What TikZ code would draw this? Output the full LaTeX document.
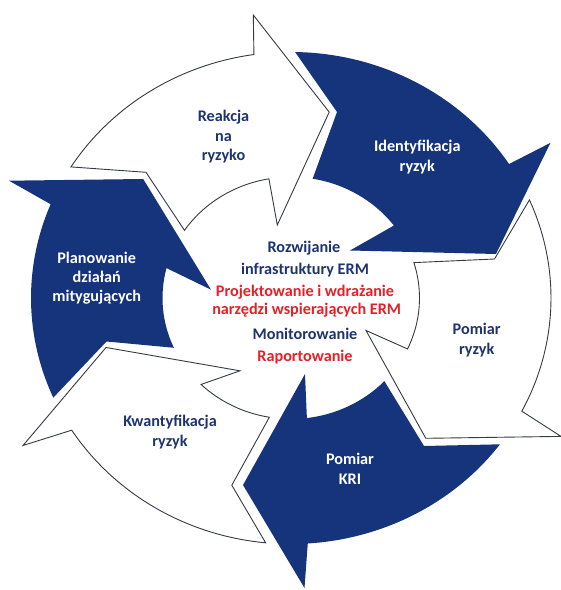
\documentclass[tikz,border=0pt]{standalone}
\usepackage{fontspec}
\setmainfont{Carlito}
\definecolor{navy}{RGB}{22,52,124}
\definecolor{navytext}{RGB}{30,52,112}
\definecolor{ermred}{RGB}{228,32,40}
\definecolor{outlinecol}{RGB}{55,58,68}
\tikzset{
  darkarrow/.style={fill=navy, draw=none},
  lightarrow/.style={fill=white, draw=outlinecol, line width=0.9pt, line join=miter},
  lbl/.style={anchor=base, font=\bfseries\fontsize{16.2}{18}\selectfont, inner sep=0pt},
  darklbl/.style={lbl, text=white},
  navylbl/.style={lbl, text=navytext},
  redlbl/.style={lbl, text=ermred},
}
\begin{document}
\begin{tikzpicture}[x=1pt,y=1pt]
\useasboundingbox (0,0) rectangle (561,590);
\fill[white] (0,0) rectangle (561,590);
\begin{scope}[shift={(291,292)}]
% Reakcja na ryzyko (white)
\path[lightarrow] (147.8:260 and 246) arc[start angle=147.8, end angle=98.2, x radius=260, y radius=246]
  -- (-37.7,283) -- (38.2,185.9) -- (-13.7,73) -- (99.9:128.5 and 121)
  arc[start angle=99.9, end angle=146, x radius=128.5, y radius=121] -- (-145,125.7) -- cycle;
% Identyfikacja ryzyk (dark)
\path[darkarrow] (89.1:260 and 246) arc[start angle=89.1, end angle=33.0, x radius=260, y radius=246]
  -- (259.5,155.2) -- (205,44) -- (59,47.5) -- (36.8:128.5 and 121)
  arc[start angle=36.8, end angle=80.3, x radius=128.5, y radius=121] -- (46,186) -- cycle;
% Pomiar ryzyk (white)
\path[lightarrow] (23.5:260 and 246) arc[start angle=23.5, end angle=-27.4, x radius=260, y radius=246]
  -- (270,-138.4) -- (134.8,-140.3) -- (75,-32.5) -- (-24.9:128.5 and 121)
  arc[start angle=-24.9, end angle=17.0, x radius=128.5, y radius=121] -- (203.5,39) -- cycle;
% Pomiar KRI (dark)
\path[darkarrow] (-36.5:260 and 246) arc[start angle=-36.5, end angle=-86.3, x radius=260, y radius=246]
  -- (13.5,-290) -- (-48,-187) -- (14,-76) -- (-82.9:128.5 and 121)
  arc[start angle=-82.9, end angle=-43.4, x radius=128.5, y radius=121] -- (133,-148) -- cycle;
% Kwantyfikacja ryzyk (white)
\path[lightarrow] (-95.6:260 and 246) arc[start angle=-95.6, end angle=-147.5, x radius=260, y radius=246]
  -- (-268,-147.5) -- (-185,-49.5) -- (-51,-72.8) -- (-134.4:128.5 and 121)
  arc[start angle=-134.4, end angle=-99.7, x radius=128.5, y radius=121] -- (-59.2,-187.2) -- cycle;
% Planowanie dzialan mitygujacych (dark)
\path[darkarrow] (203.9:260 and 246) arc[start angle=203.9, end angle=157.6, x radius=260, y radius=246]
  -- (-282,117.3) -- (-147.8,119) -- (-80,8.3) -- (165.7:128.5 and 121)
  arc[start angle=165.7, end angle=204.3, x radius=128.5, y radius=121] -- (-184.5,-43.5) -- cycle;
\end{scope}
% labels
\node[navylbl] (r1) at (223.5,468.3) {Reakcja};
\node[navylbl] (r2) at (223.5,448.8) {na};
\node[navylbl] (r3) at (223.5,429.5) {ryzyko};
\node[darklbl] (i1) at (417.3,438.3) {Identyfikacja};
\node[darklbl] (i2) at (417.3,418.3) {ryzyk};
\node[navylbl] (p1) at (476.7,255) {Pomiar};
\node[navylbl] (p2) at (476.7,235) {ryzyk};
\node[darklbl] (k1) at (350,125.7) {Pomiar};
\node[darklbl] (k2) at (350,105.7) {KRI};
\node[navylbl] (q1) at (170,163.3) {Kwantyfikacja};
\node[navylbl] (q2) at (170,143.3) {ryzyk};
\node[darklbl] (m1) at (96.7,326.7) {Planowanie};
\node[darklbl] (m2) at (96.7,307.5) {działań};
\node[darklbl] (m3) at (96.7,288.3) {mitygujących};
\node[navylbl] (c1) at (304,337.7) {Rozwijanie};
\node[navylbl] (c2) at (305,315) {infrastruktury ERM};
\node[redlbl] (c3) at (305,293.3) {Projektowanie i wdrażanie};
\node[redlbl] (c4) at (306.7,275.7) {narzędzi wspierających ERM};
\node[navylbl] (c5) at (305,250.7) {Monitorowanie};
\node[redlbl] (c6) at (305,228.3) {Raportowanie};
\end{tikzpicture}
\end{document}
